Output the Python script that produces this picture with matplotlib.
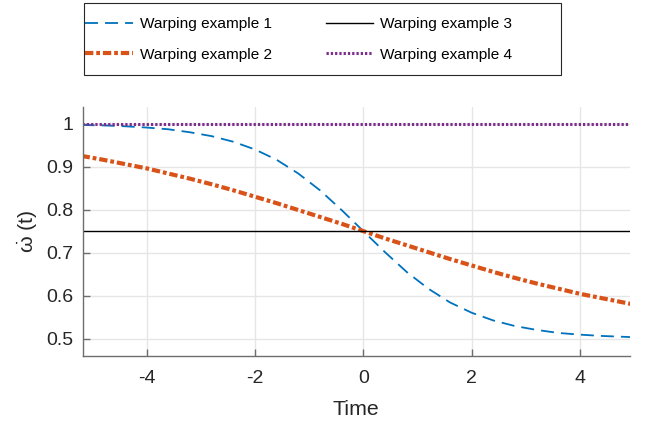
import matplotlib
matplotlib.use("Agg")
import matplotlib.pyplot as plt
from matplotlib.patches import Rectangle

plt.rcParams['font.family'] = ['Liberation Sans', 'DejaVu Sans']
plt.rcParams['axes.unicode_minus'] = False
plt.rcParams['mathtext.fontset'] = 'custom'
plt.rcParams['mathtext.rm'] = 'Liberation Sans'
plt.rcParams['mathtext.it'] = 'Liberation Sans'

# Sample times and warping-rate values for each example
time = [-5.2, -4.8, -4.4, -4.0, -3.6, -3.2, -2.8, -2.4, -2.0, -1.6, -1.2, -0.8, -0.4,
        0.0, 0.4, 0.8, 1.2, 1.6, 2.0, 2.4, 2.8, 3.2, 3.6, 4.0, 4.4, 4.8, 5.0]
warp1 = [0.997, 0.996, 0.994, 0.991, 0.987, 0.980, 0.971, 0.958, 0.940, 0.916, 0.884, 0.845, 0.799,
         0.750, 0.701, 0.655, 0.616, 0.584, 0.560, 0.542, 0.529, 0.520, 0.513, 0.509, 0.506, 0.504, 0.503]
warp2 = [0.925, 0.916, 0.906, 0.896, 0.884, 0.872, 0.859, 0.845, 0.830, 0.815, 0.799, 0.783, 0.767,
         0.750, 0.733, 0.717, 0.701, 0.685, 0.670, 0.655, 0.641, 0.628, 0.616, 0.604, 0.594, 0.584, 0.579]
warp3 = [0.75] * len(time)
warp4 = [1.0] * len(time)

labels = ["Warping example 1", "Warping example 2", "Warping example 3", "Warping example 4"]
xticks = [-4, -2, 0, 2, 4]
xticklabels = ["-4", "-2", "0", "2", "4"]
yticks = [0.5, 0.6, 0.7, 0.8, 0.9, 1.0]
yticklabels = ["0.5", "0.6", "0.7", "0.8", "0.9", "1"]

fig = plt.figure(figsize=(6.46, 4.26), dpi=100)
ax = fig.add_axes([0.128, 0.164, 0.847, 0.585])

h1, = ax.plot(time, warp1, color='#0072BD', lw=1.3, linestyle=(0, (7.2, 3.9)), label=labels[0])
h2, = ax.plot(time, warp2, color='#D95319', lw=3.0, linestyle=(0, (2.0, 0.7, 0.9, 0.7)), label=labels[1])
h3, = ax.plot(time, warp3, color='black', lw=1.0, linestyle='-', label=labels[2])
h4, = ax.plot(time, warp4, color='#7E2F8E', lw=2.2, linestyle=(0, (0.75, 0.65)), label=labels[3])

ax.set_xlim(-5.18, 4.92)
ax.set_ylim(0.459, 1.039)
ax.set_xticks(xticks)
ax.set_xticklabels(xticklabels)
ax.set_yticks(yticks)
ax.set_yticklabels(yticklabels)
ax.grid(True, color='#e6e6e6', lw=1.0)
ax.set_axisbelow(True)

for s in ['top', 'right']:
    ax.spines[s].set_visible(False)
for s in ['left', 'bottom']:
    ax.spines[s].set_color('#6e6e6e')
    ax.spines[s].set_linewidth(1.0)
ax.tick_params(direction='in', length=5, width=1, color='#6e6e6e',
               labelsize=14, labelcolor='#262626')
ax.tick_params(axis='x', pad=10)
ax.tick_params(axis='y', pad=7)

ax.set_xlabel("Time", fontsize=15.4, color='#262626', labelpad=9)
ax.set_ylabel(r"$\dot{\omega}$ (t)", fontsize=15.4, color='#262626', labelpad=4)

# Legend entries (two columns) with a separately drawn frame
leg = fig.legend([h1, h2, h3, h4], labels,
                 ncol=2, loc='center left',
                 bbox_to_anchor=(85 / 646, 1 - 39.5 / 426),
                 fontsize=11.1, frameon=False,
                 handlelength=3.1, handletextpad=0.45, borderpad=0.0,
                 borderaxespad=0.0, labelspacing=1.06, columnspacing=3.5)
fig.patches.append(Rectangle((84 / 646, 1 - 75 / 426), 477 / 646, 72 / 426,
                             transform=fig.transFigure, fill=False,
                             edgecolor='#262626', lw=0.8))

fig.savefig("out.png", dpi=100)
